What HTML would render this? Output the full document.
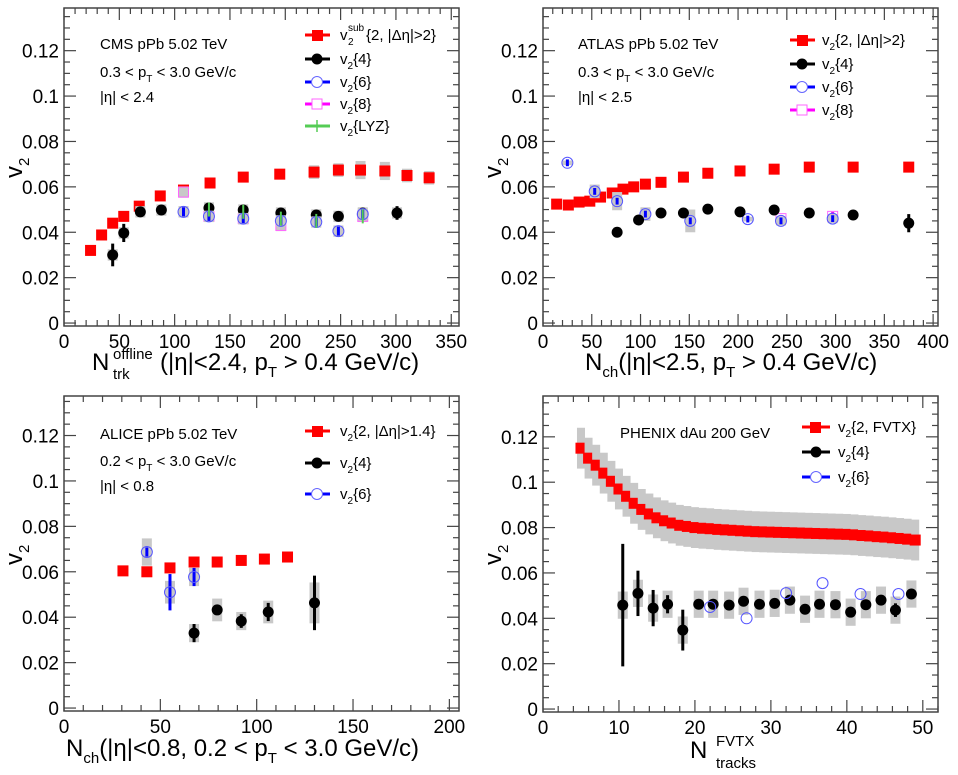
<!DOCTYPE html>
<html><head><meta charset="utf-8">
<style>
html,body{margin:0;padding:0;background:#fff;}
svg{display:block;font-family:"Liberation Sans",sans-serif;}
</style></head>
<body>
<svg id="chart" width="958" height="775" viewBox="0 0 958 775" xmlns="http://www.w3.org/2000/svg">
<rect x="0" y="0" width="958" height="775" fill="#fff"/>
<g id="plots"></g>

<!-- panel texts -->
<g font-size="15" fill="#000">
<text x="100" y="49">CMS pPb 5.02 TeV</text>
<text x="100" y="77">0.3 &lt; p<tspan dy="5" font-size="10">T</tspan><tspan dy="-5"> &lt; 3.0 GeV/c</tspan></text>
<text x="100" y="102">|η| &lt; 2.4</text>
</g>
<g font-size="15" fill="#000">
<text x="578" y="49">ATLAS pPb 5.02 TeV</text>
<text x="578" y="77">0.3 &lt; p<tspan dy="5" font-size="10">T</tspan><tspan dy="-5"> &lt; 3.0 GeV/c</tspan></text>
<text x="578" y="102">|η| &lt; 2.5</text>
</g>
<g font-size="15" fill="#000">
<text x="100" y="439">ALICE pPb 5.02 TeV</text>
<text x="100" y="466">0.2 &lt; p<tspan dy="5" font-size="10">T</tspan><tspan dy="-5"> &lt; 3.0 GeV/c</tspan></text>
<text x="100" y="491">|η| &lt; 0.8</text>
</g>
<g font-size="15" fill="#000">
<text x="620" y="438">PHENIX dAu 200 GeV</text>
</g>

<!-- legends -->
<g font-size="15">
<g><line x1="305" y1="35" x2="330" y2="35" stroke="#f00" stroke-width="3"/><rect x="312" y="30" width="11" height="11" fill="#f00"/><text x="340" y="40">v</text><text x="348" y="31" font-size="10">sub</text><text x="348" y="45" font-size="10">2</text><text x="366" y="40">{2, |Δη|&gt;2}</text></g>
<g><line x1="305" y1="59" x2="330" y2="59" stroke="#000" stroke-width="3"/><circle cx="317" cy="59" r="5.5" fill="#000"/><text x="340" y="64">v<tspan dy="5" font-size="10">2</tspan><tspan dy="-5">{4}</tspan></text></g>
<g><line x1="305" y1="82" x2="330" y2="82" stroke="#00f" stroke-width="3"/><circle cx="317" cy="82" r="5.5" fill="#fff" stroke="#66f"/><text x="340" y="87">v<tspan dy="5" font-size="10">2</tspan><tspan dy="-5">{6}</tspan></text></g>
<g><line x1="305" y1="104" x2="330" y2="104" stroke="#f0f" stroke-width="3"/><rect x="312" y="99" width="10" height="10" fill="#fff" stroke="#f6f"/><text x="340" y="109">v<tspan dy="5" font-size="10">2</tspan><tspan dy="-5">{8}</tspan></text></g>
<g><line x1="305" y1="126" x2="330" y2="126" stroke="#5c5" stroke-width="3"/><line x1="317" y1="120" x2="317" y2="132" stroke="#5c5" stroke-width="1.5"/><text x="340" y="131">v<tspan dy="5" font-size="10">2</tspan><tspan dy="-5">{LYZ}</tspan></text></g>
</g>
<g font-size="15">
<g><line x1="790" y1="40" x2="815" y2="40" stroke="#f00" stroke-width="3"/><rect x="797" y="35" width="11" height="11" fill="#f00"/><text x="822" y="45">v<tspan dy="5" font-size="10">2</tspan><tspan dy="-5">{2, |Δη|&gt;2}</tspan></text></g>
<g><line x1="790" y1="64" x2="815" y2="64" stroke="#000" stroke-width="3"/><circle cx="802" cy="64" r="5.5" fill="#000"/><text x="822" y="69">v<tspan dy="5" font-size="10">2</tspan><tspan dy="-5">{4}</tspan></text></g>
<g><line x1="790" y1="87" x2="815" y2="87" stroke="#00f" stroke-width="3"/><circle cx="802" cy="87" r="5.5" fill="#fff" stroke="#66f"/><text x="822" y="92">v<tspan dy="5" font-size="10">2</tspan><tspan dy="-5">{6}</tspan></text></g>
<g><line x1="790" y1="110" x2="815" y2="110" stroke="#f0f" stroke-width="3"/><rect x="797" y="105" width="10" height="10" fill="#fff" stroke="#f6f"/><text x="822" y="115">v<tspan dy="5" font-size="10">2</tspan><tspan dy="-5">{8}</tspan></text></g>
</g>
<g font-size="15">
<g><line x1="305" y1="431" x2="330" y2="431" stroke="#f00" stroke-width="3"/><rect x="312" y="426" width="11" height="11" fill="#f00"/><text x="340" y="436">v<tspan dy="5" font-size="10">2</tspan><tspan dy="-5">{2, |Δη|&gt;1.4}</tspan></text></g>
<g><line x1="305" y1="463" x2="330" y2="463" stroke="#000" stroke-width="3"/><circle cx="317" cy="463" r="5.5" fill="#000"/><text x="340" y="468">v<tspan dy="5" font-size="10">2</tspan><tspan dy="-5">{4}</tspan></text></g>
<g><line x1="305" y1="494" x2="330" y2="494" stroke="#00f" stroke-width="3"/><circle cx="317" cy="494" r="5.5" fill="#fff" stroke="#66f"/><text x="340" y="499">v<tspan dy="5" font-size="10">2</tspan><tspan dy="-5">{6}</tspan></text></g>
</g>
<g font-size="15">
<g><line x1="802" y1="427" x2="830" y2="427" stroke="#f00" stroke-width="3"/><rect x="810" y="422" width="11" height="11" fill="#f00"/><text x="838" y="432">v<tspan dy="5" font-size="10">2</tspan><tspan dy="-5">{2, FVTX}</tspan></text></g>
<g><line x1="802" y1="452" x2="830" y2="452" stroke="#000" stroke-width="3"/><circle cx="816" cy="452" r="5.5" fill="#000"/><text x="838" y="457">v<tspan dy="5" font-size="10">2</tspan><tspan dy="-5">{4}</tspan></text></g>
<g><line x1="802" y1="477" x2="830" y2="477" stroke="#00f" stroke-width="3"/><circle cx="816" cy="477" r="5.5" fill="#fff" stroke="#66f"/><text x="838" y="482">v<tspan dy="5" font-size="10">2</tspan><tspan dy="-5">{6}</tspan></text></g>
</g>

<!-- axis titles -->
<g font-size="24" fill="#000">
<g>
<text x="92" y="370">N</text>
<text x="113" y="359" font-size="15">offline</text>
<text x="113" y="379" font-size="15">trk</text>
<text x="160" y="370">(|η|&lt;2.4, p<tspan font-size="15" dy="7">T</tspan><tspan dy="-7"> &gt; 0.4 GeV/c)</tspan></text>
</g>
<text x="585" y="370">N<tspan font-size="15" dy="7">ch</tspan><tspan dy="-7">(|η|&lt;2.5, p</tspan><tspan font-size="15" dy="7">T</tspan><tspan dy="-7"> &gt; 0.4 GeV/c)</tspan></text>
<text x="66" y="756">N<tspan font-size="15" dy="7">ch</tspan><tspan dy="-7">(|η|&lt;0.8, 0.2 &lt; p</tspan><tspan font-size="15" dy="7">T</tspan><tspan dy="-7"> &lt; 3.0 GeV/c)</tspan></text>
<g>
<text x="690" y="758">N</text>
<text x="716" y="746" font-size="15">FVTX</text>
<text x="716" y="768" font-size="15">tracks</text>
</g>
<text transform="translate(22,178) rotate(-90)">v<tspan font-size="15" dy="7">2</tspan></text>
<text transform="translate(501,178) rotate(-90)">v<tspan font-size="15" dy="7">2</tspan></text>
<text transform="translate(22,565) rotate(-90)">v<tspan font-size="15" dy="7">2</tspan></text>
<text transform="translate(501,565) rotate(-90)">v<tspan font-size="15" dy="7">2</tspan></text>
</g>
</svg>

<script>
// ---------- CMS data ----------
const cmsRedX = [24,34,44,54,68,87,108,132,162,195,226,248,268,290,310,330];
const cmsRedY = [0.032,0.0388,0.044,0.047,0.0515,0.056,0.0586,0.0617,0.0643,0.0656,0.0665,0.0674,0.0674,0.067,0.065,0.064];
const cmsRedSys = [0.001,0.001,0.001,0.001,0.001,0.001,0.0015,0.0015,0.0015,0.002,0.003,0.003,0.004,0.004,0.003,0.003];
const cmsBlkX = [44,54,69,88,108,131,162,196,228,248,270,301];
const cmsBlkY = [0.030,0.0397,0.049,0.0498,0.049,0.0507,0.0498,0.0485,0.0476,0.047,0.0485,0.0485];
const cmsBlkErr = [0.005,0.004,0.001,0.001,0.001,0.001,0.001,0.001,0.001,0.001,0.002,0.003];
const cmsBluX = [108,131,162,196,228,248,270];
const cmsBluY = [0.049,0.047,0.046,0.045,0.0445,0.0405,0.048];
const cmsPnkX = [108,131,162,196,270];
const cmsPnkY = [0.0577,0.047,0.046,0.043,0.047];
const cmsGrnX = [131,162,196,228,270];
const cmsGrnY = [0.050,0.049,0.046,0.045,0.047];
// ---------- ATLAS data ----------
const atlRedX = [14,26,37,48,59,71,82,93,105,121,144,169,202,237,273,318,375];
const atlRedY = [0.0524,0.052,0.0533,0.0537,0.0555,0.0573,0.059,0.06,0.0612,0.062,0.0643,0.066,0.067,0.0678,0.0687,0.0687,0.0687];
const atlBlkX = [76,98,121,144,169,202,237,273,318,375];
const atlBlkY = [0.040,0.0454,0.0485,0.0485,0.0502,0.049,0.0498,0.0485,0.0476,0.044];
const atlBlkErr = [0,0,0,0,0,0,0,0,0,0.004];
const atlBluX = [25,53,76,105,151,210,244,297];
const atlBluY = [0.0706,0.058,0.0537,0.048,0.045,0.0458,0.045,0.046];
const atlBluSys = [0.001,0.003,0.004,0.003,0.005,0.001,0.002,0.002];
const atlPnkX = [244,297];
const atlPnkY = [0.046,0.047];
// ---------- ALICE data ----------
const aliRedX = [30.6,43,55,67.5,79.5,92,104,116];
const aliRedY = [0.0604,0.060,0.0617,0.0643,0.0643,0.065,0.0656,0.0665];
const aliBlkX = [67.5,79.5,92,106,130];
const aliBlkY = [0.033,0.0432,0.0383,0.0423,0.0463];
const aliBlkErr = [0.004,0.001,0.003,0.004,0.012];
const aliBlkSys = [0.004,0.005,0.004,0.005,0.009];
const aliBluX = [43,55,67.5];
const aliBluY = [0.0687,0.051,0.0577];
const aliBluErr = [0.002,0.008,0.004];
const aliBluSys = [0.006,0.005,0.004];
// ---------- PHENIX data ----------
const phxRedX = [5,6,7,8,9,10,11,12,13,14,15,16,17,18,19,20,21,22,23,24,25,26,27,28,29,30,31,32,33,34,35,36,37,38,39,40,41,42,43,44,45,46,47,48,49];
const phxRedY = [0.115,0.1106,0.1075,0.104,0.1004,0.097,0.0938,0.0907,0.088,0.086,0.0843,0.083,0.082,0.081,0.0805,0.080,0.0797,0.0795,0.0792,0.079,0.0788,0.0786,0.0784,0.0782,0.0781,0.078,0.0779,0.0778,0.0777,0.0776,0.0775,0.0774,0.0773,0.0772,0.0771,0.077,0.0768,0.0765,0.0763,0.076,0.0758,0.0755,0.0752,0.0749,0.0745];
const phxBlkX = [10.5,12.5,14.5,16.4,18.4,20.5,22.4,24.5,26.4,28.5,30.5,32.5,34.5,36.4,38.5,40.5,42.5,44.5,46.4,48.5];
const phxBlkY = [0.0458,0.051,0.0445,0.0462,0.0348,0.0462,0.0462,0.0458,0.0475,0.0462,0.0466,0.048,0.044,0.0462,0.046,0.0427,0.046,0.048,0.0436,0.0507];
const phxBlkErr = [0.027,0.010,0.008,0.004,0.009,0.002,0.002,0.001,0.001,0.001,0.001,0.002,0.001,0.001,0.001,0.001,0.001,0.001,0.003,0.002];
const phxBluX = [22,26.8,32,36.8,41.8,46.8];
const phxBluY = [0.045,0.040,0.0511,0.0555,0.0507,0.0507];

const NS = 'http://www.w3.org/2000/svg';
const root = document.getElementById('plots');
function mk(tag, attrs, parent){ const e=document.createElementNS(NS,tag); for(const k in attrs) e.setAttribute(k,attrs[k]); parent.appendChild(e); return e; }

const panels = [
 {id:'cms', L:64,R:459,T:8,B:326, xmin:0,xmax:357, ymin:-0.0013,ymax:0.1388, major:50, minor:10},
 {id:'atlas', L:543,R:938,T:8,B:326, xmin:0,xmax:405, ymin:-0.0013,ymax:0.1388, major:50, minor:10},
 {id:'alice', L:64,R:459,T:396,B:711, xmin:0,xmax:205, ymin:-0.0013,ymax:0.1374, major:50, minor:10},
 {id:'phenix', L:543,R:938,T:396,B:712, xmin:0,xmax:52, ymin:-0.0013,ymax:0.138, major:10, minor:2}
];
panels.forEach(p=>{
  p.sx = v => p.L + (v-p.xmin)/(p.xmax-p.xmin)*(p.R-p.L);
  p.sy = v => p.B - (v-p.ymin)/(p.ymax-p.ymin)*(p.B-p.T);
  const g = mk('g',{},root);
  
  
  const fr = mk('rect',{x:p.L,y:p.T,width:p.R-p.L,height:p.B-p.T,fill:'none',stroke:'#444','stroke-width':1.5},g);
  
  
  for(let v=0; v<=p.xmax+1e-9; v+=p.minor){
    const isMaj = Math.abs(v/p.major-Math.round(v/p.major))<1e-6;
    const len = isMaj?12:6, x=p.sx(v);
    const t1 = mk('line',{x1:x,y1:p.B,x2:x,y2:p.B-len,stroke:'#444','stroke-width':1.2},g);
    
    
    mk('line',{x1:x,y1:p.T,x2:x,y2:p.T+len,stroke:'#444','stroke-width':1.2},g);
    if(isMaj){
      const lb = mk('text',{x:x,y:p.B+22,'text-anchor':'middle','font-size':19},g);
      lb.textContent = String(Math.round(v));
      
      
    }
  }
  for(let i=0;i<=27;i++){
    const v=i*0.005; if(v>p.ymax) break;
    const isMaj = i%4===0, len=isMaj?12:6, y=p.sy(v);
    const t2 = mk('line',{x1:p.L,y1:y,x2:p.L+len,y2:y,stroke:'#444','stroke-width':1.2},g);
    
    
    mk('line',{x1:p.R,y1:y,x2:p.R-len,y2:y,stroke:'#444','stroke-width':1.2},g);
    if(isMaj){
      const lb = mk('text',{x:p.L-5,y:y+7,'text-anchor':'end','font-size':19},g);
      lb.textContent = i===0?'0':String(+(v).toFixed(2));
      
      
    }
  }
});

function series(p, name, xs, ys, opt){
  const g = mk('g',{},root);
  
  
  xs.forEach((xv,i)=>{
    const x=p.sx(xv), y=p.sy(ys[i]);
    if(opt.sys){
      const s=opt.sys[i]; const y1=p.sy(ys[i]+s), y2=p.sy(ys[i]-s);
      const b = mk('rect',{x:x-(opt.bw||5),y:y1,width:2*(opt.bw||5),height:Math.max(1,y2-y1),fill:'#c8c8c8'},g);
      
      
    }
    if(opt.err && opt.err[i]>0){
      const e = mk('line',{x1:x,x2:x,y1:p.sy(ys[i]+opt.err[i]),y2:p.sy(ys[i]-opt.err[i]),stroke:opt.ec,'stroke-width':3},g);
      
      
    }
    let m;
    if(opt.shape==='sq') m = mk('rect',{x:x-5.5,y:y-5.5,width:11,height:11,fill:'#f00'},g);
    else if(opt.shape==='dot') m = mk('circle',{cx:x,cy:y,r:5.5,fill:'#000'},g);
    else if(opt.shape==='oc') m = mk('circle',{cx:x,cy:y,r:5.5,fill:'none',stroke:'#55f','stroke-width':1},g);
    else if(opt.shape==='os') m = mk('rect',{x:x-5,y:y-5,width:10,height:10,fill:'none',stroke:'#f6f','stroke-width':1},g);
    else m = mk('line',{x1:x,x2:x,y1:y-7,y2:y+7,stroke:'#5c5','stroke-width':2},g);
    
    
  });
}
const [P1,P2,P3,P4]=panels;
const z = a=>a.map(()=>0.0025);
series(P4,'v2-2',phxRedX,phxRedY,{shape:'sq',sys:phxRedY.map(()=>0.009),bw:4});
series(P1,'v2sub-2',cmsRedX,cmsRedY,{shape:'sq',sys:cmsRedSys});
series(P1,'v2-8',cmsPnkX,cmsPnkY,{shape:'os',sys:z(cmsPnkX)});
series(P1,'v2-4',cmsBlkX,cmsBlkY,{shape:'dot',err:cmsBlkErr,ec:'#000',sys:z(cmsBlkX)});
series(P1,'v2-6',cmsBluX,cmsBluY,{shape:'oc',err:cmsBluX.map(()=>0.002),ec:'#00f',sys:z(cmsBluX)});
series(P1,'v2-lyz',cmsGrnX,cmsGrnY,{shape:'lyz'});
series(P2,'v2-2',atlRedX,atlRedY,{shape:'sq'});
series(P2,'v2-8',atlPnkX,atlPnkY,{shape:'os',err:[0.001,0.002],ec:'#f0f'});
series(P2,'v2-6',atlBluX,atlBluY,{shape:'oc',err:atlBluX.map(()=>0.0015),ec:'#00f',sys:atlBluSys});
series(P2,'v2-4',atlBlkX,atlBlkY,{shape:'dot',err:atlBlkErr,ec:'#000'});
series(P3,'v2-2',aliRedX,aliRedY,{shape:'sq',err:[0,0,0,0,0,0,0,0.0015],ec:'#f00'});
series(P3,'v2-6',aliBluX,aliBluY,{shape:'oc',err:aliBluErr,ec:'#00f',sys:aliBluSys});
series(P3,'v2-4',aliBlkX,aliBlkY,{shape:'dot',err:aliBlkErr,ec:'#000',sys:aliBlkSys});
series(P4,'v2-4',phxBlkX,phxBlkY,{shape:'dot',err:phxBlkErr,ec:'#000',sys:phxBlkX.map(()=>0.006),bw:5});
series(P4,'v2-6',phxBluX,phxBluY,{shape:'oc'});
</script>
</body></html>
